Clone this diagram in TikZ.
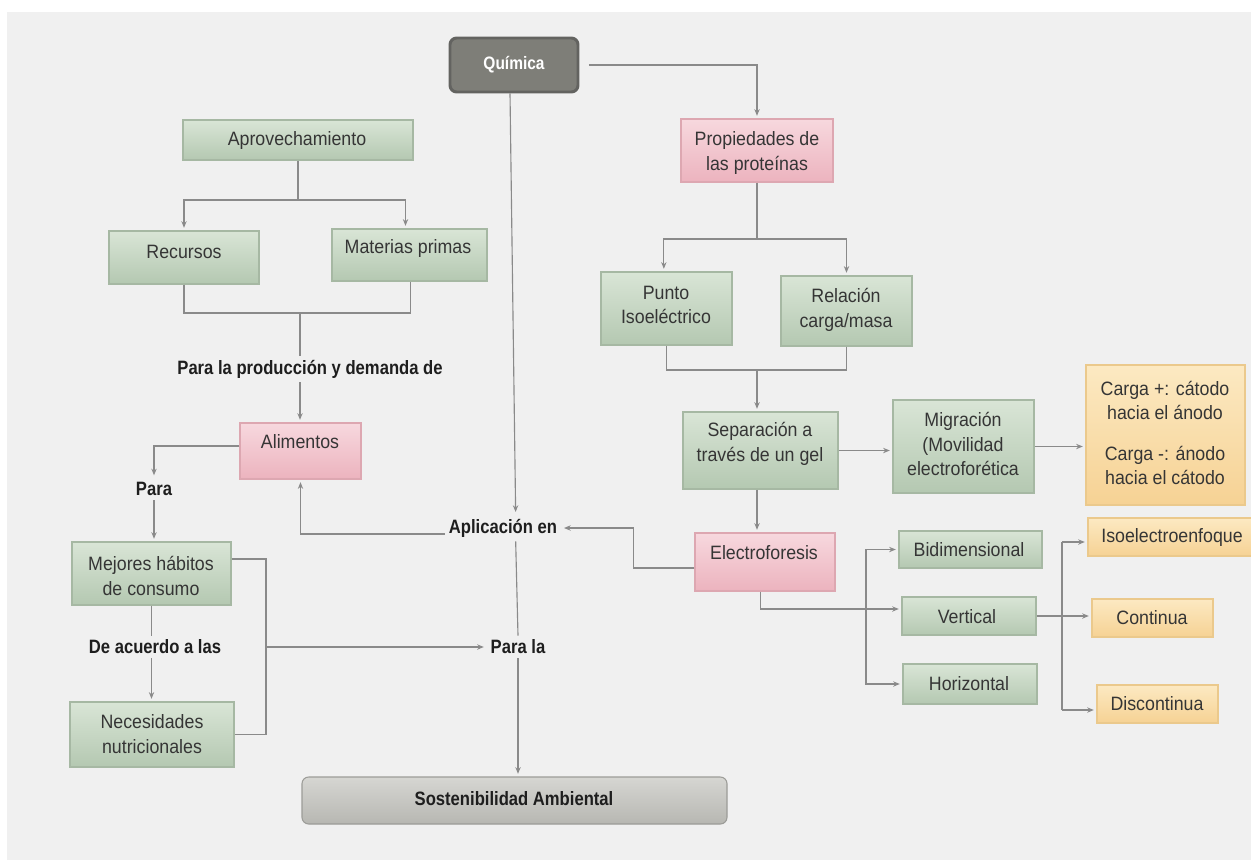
\documentclass[tikz,border=0pt]{standalone}
\usepackage{fontspec}
\setmainfont{Liberation Sans}[FakeStretch=0.92]
\newfontfamily\lblfont{Liberation Sans}[FakeStretch=0.86]
\usetikzlibrary{arrows.meta,fit,calc}

\definecolor{paper}{HTML}{F0F0F0}
\definecolor{ink}{HTML}{1E1E1E}
\definecolor{wire}{HTML}{8A8A8A}
\definecolor{grntop}{HTML}{D9E5D6}
\definecolor{grnbot}{HTML}{B4C8B1}
\definecolor{grnline}{HTML}{A6B8A3}
\definecolor{pnktop}{HTML}{F7D8DE}
\definecolor{pnkbot}{HTML}{ECB3BE}
\definecolor{pnkline}{HTML}{DDA7B1}
\definecolor{orgtop}{HTML}{FCE9C2}
\definecolor{orgbot}{HTML}{F6D294}
\definecolor{orgline}{HTML}{EBC98C}
\definecolor{quifill}{HTML}{7E7E78}
\definecolor{quiline}{HTML}{636360}
\definecolor{sostop}{HTML}{D6D6D2}
\definecolor{sosbot}{HTML}{B7B7B2}
\definecolor{sosline}{HTML}{9C9C98}

\begin{document}
\begin{tikzpicture}[x=0.75pt,y=-0.75pt,
  box/.style={inner sep=0pt, line width=0.8pt},
  gbox/.style={box, draw=grnline, top color=grntop, bottom color=grnbot},
  pbox/.style={box, draw=pnkline, top color=pnktop, bottom color=pnkbot},
  obox/.style={box, draw=orgline, top color=orgtop, bottom color=orgbot},
  txt/.style={font=\fontsize{14.5}{18.4}\selectfont, text=ink!90, align=center, inner sep=2pt},
  lbl/.style={font=\lblfont\bfseries\fontsize{14.5}{17}\selectfont, text=ink, inner sep=3pt},
  conn/.style={draw=wire, line width=0.85pt},
  arr/.style={conn, -{Stealth[length=5pt,width=4pt]}, shorten >=2pt}]

% canvas
\fill[white] (0,0) rectangle (1251,860);
\fill[paper] (7,12) rectangle (1251,860);
\useasboundingbox (0,0) rectangle (1251,860);

% ---- boxes ----
\node[box, draw=quiline, line width=2.2pt, fill=quifill, rounded corners=5pt,
      fit={(450,38) (578,92)}] (qui) {};
\node[font=\lblfont\bfseries\fontsize{13.5}{16}\selectfont, text=white] (quit) at (514,65) {Química};

\node[gbox, fit={(183,120) (413,160)}] (apr) {};
\node[txt] (aprt) at (297,140) {Aprovechamiento};
\node[gbox, fit={(109,231) (259,284)}] (rec) {};
\node[txt] (rect) at (184,252) {Recursos};
\node[gbox, fit={(332,229) (487,281)}] (mat) {};
\node[txt] (matt) at (408,248) {Materias primas};

\node[pbox, fit={(681,119) (833,182)}] (prop) {};
\node[txt] (propt) at (757,153) {Propiedades de\\las proteínas};
\node[gbox, fit={(601,272) (732,345)}] (pun) {};
\node[txt] (punt) at (666,305) {Punto\\Isoeléctrico};
\node[gbox, fit={(781,276) (912,346)}] (rel) {};
\node[txt] (relt) at (846,310) {Relación\\carga/masa};
\node[gbox, fit={(683,412) (838,489)}] (sep) {};
\node[txt] (sept) at (760,444) {Separación a\\través de un gel};
\node[gbox, fit={(893,400) (1034,493)}] (mig) {};
\node[txt] (migt) at (963,444) {Migración\\(Movilidad\\electroforética};
\node[obox, fit={(1086,365) (1245,505)}] (car) {};
\node[txt] (cart) at (1165,433) {Carga +: cátodo\\hacia el ánodo\\[12pt]Carga -: ánodo\\hacia el cátodo};
\node[pbox, fit={(695,533) (835,591)}] (ele) {};
\node[txt] (elet) at (764,553) {Electroforesis};

\node[pbox, fit={(240,423) (361,479)}] (ali) {};
\node[txt] (alit) at (300,442) {Alimentos};
\node[gbox, fit={(72,542) (231,605)}] (mej) {};
\node[txt] (mejt) at (151,576) {Mejores hábitos\\de consumo};
\node[gbox, fit={(70,702) (234,767)}] (nec) {};
\node[txt] (nect) at (152,734) {Necesidades\\nutricionales};

\node[gbox, fit={(899,531) (1042,568)}] (bid) {};
\node[txt] (bidt) at (969,550) {Bidimensional};
\node[gbox, fit={(902,597) (1036,635)}] (ver) {};
\node[txt] (vert) at (967,617) {Vertical};
\node[gbox, fit={(903,664) (1037,704)}] (hor) {};
\node[txt] (hort) at (969,684) {Horizontal};

\node[obox, fit={(1088,518) (1253,556)}] (iso) {};
\node[txt] (isot) at (1172,537) {Isoelectroenfoque};
\node[obox, fit={(1092,599) (1213,637)}] (con) {};
\node[txt] (cont) at (1152,618) {Continua};
\node[obox, fit={(1097,685) (1218,723)}] (dis) {};
\node[txt] (dist) at (1157,704) {Discontinua};

\node[box, draw=sosline, top color=sostop, bottom color=sosbot, rounded corners=5pt,
      fit={(302,777) (727,824)}] (sos) {};
\node[lbl] (sost) at (514,799) {Sostenibilidad Ambiental};

% ---- linking words ----
\node[lbl] (prod) at (310,369) {Para la producción y demanda de};
\node[lbl] (para1) at (154,489) {Para};
\node[lbl] (deac) at (155,647) {De acuerdo a las};
\node[lbl] (apl) at (503,528) {Aplicación en};
\node[lbl] (parala) at (518,647) {Para la};

% ---- joints ----
\coordinate (aprJ) at (298,200);
\coordinate (resJ) at (300,313);
\coordinate (propJ) at (757,239);
\coordinate (ptJ) at (757,370);
\coordinate (elJ) at (866,609);
\coordinate (isoJ) at (1062,542);
\coordinate (disJ) at (1062,710);
\coordinate (brk) at (266,647);

% ---- connectors ----
\draw[arr, shorten <=7pt] (qui.east) -| (prop.north);
\draw[arr] ([xshift=-3pt]qui.south) -- ([xshift=9.5pt]apl.north);
\draw[conn] ([xshift=9.5pt]apl.south) -- (parala.north);
\draw[arr] (parala.south) -- (parala.south |- sos.north);

\draw[conn] (apr.south) -- (aprJ);
\draw[arr] (aprJ) -| (rec.north);
\draw[arr] (aprJ) -| ([xshift=-3pt]mat.north);
\draw[conn] (rec.south) |- (resJ);
\draw[conn] ([xshift=1pt]mat.south) |- (resJ);
\draw[conn] (resJ) -- (resJ |- prod.north);
\draw[arr] (resJ |- prod.south) -- (resJ |- ali.north);

\draw[conn] (prop.south) -- (propJ);
\draw[arr] (propJ) -| ([xshift=-2pt]pun.north);
\draw[arr] (propJ) -| (rel.north);
\draw[conn] (pun.south) |- (ptJ);
\draw[conn] (rel.south) |- (ptJ);
\draw[arr] (ptJ) -- (ptJ |- sep.north);
\draw[arr] (sep.east) -- (sep.east -| mig.west);
\draw[arr] (mig.east) -- (mig.east -| car.west);
\draw[arr] (ptJ |- sep.south) -- (ptJ |- ele.north);

\draw[arr] ([yshift=-4.5pt]ele.west) -| ([xshift=54pt]apl.east) -- (apl.east);
\draw[arr] ([yshift=-4.5pt]apl.west) -| (ali.south);
\draw[arr] ([yshift=3.75pt]ali.west) -| (para1.north);
\draw[arr] (para1.south) -- (para1.south |- mej.north);
\draw[conn] (mej.south) -- (mej.south |- deac.north);
\draw[arr] (mej.south |- deac.south) -- (mej.south |- nec.north);
\draw[conn] ([yshift=10.9pt]mej.east) -| (brk) |- (nec.east);
\draw[arr] (brk) -- (parala.west);

\draw[conn] ([xshift=-3.5pt]ele.south) |- (elJ);
\draw[arr] (elJ) -- (elJ -| ver.west);
\draw[arr] (elJ) |- (bid.west);
\draw[arr] (elJ) |- (hor.west);
\draw[arr] (ver.east) -- (ver.east -| con.west);
\draw[conn] (isoJ) -- (disJ);
\draw[arr] (isoJ) -- (isoJ -| iso.west);
\draw[arr] (disJ) -- (disJ -| dis.west);
\end{tikzpicture}
\end{document}
